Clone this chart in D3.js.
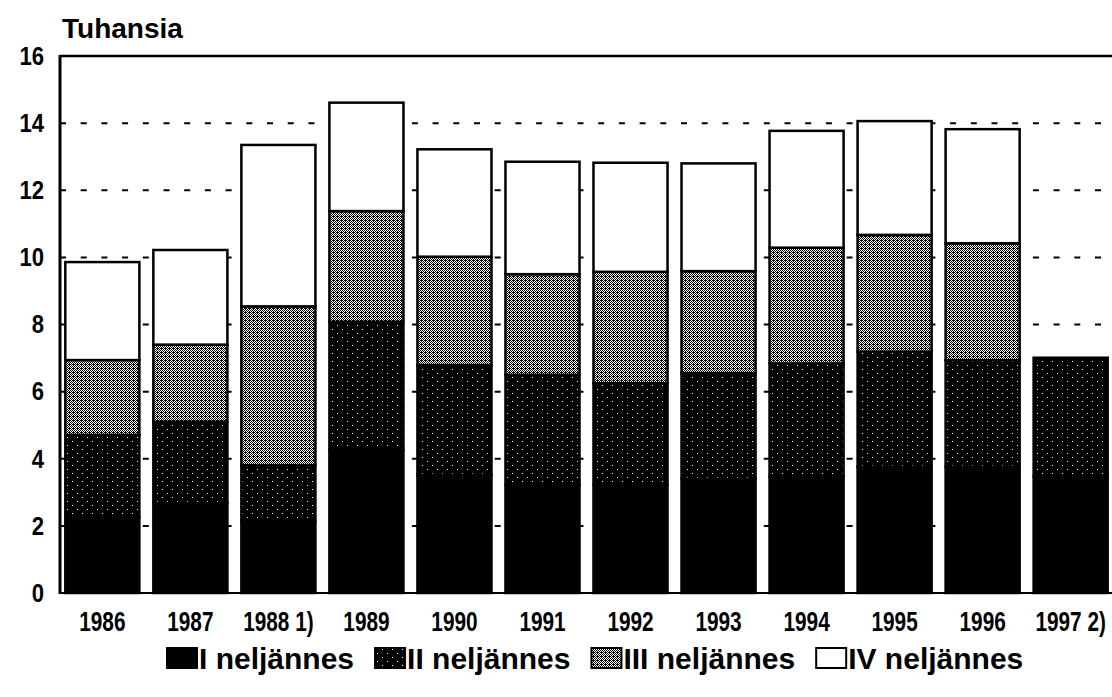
<!DOCTYPE html>
<html>
<head>
<meta charset="utf-8">
<script src="https://cdn.jsdelivr.net/npm/d3@7"></script>
<style>
  body { margin: 0; background: #fff; }
  svg { display: block; }
</style>
</head>
<body>
<div id="chart"></div>
<script>
// arvot tuhansina, luettu kuvasta
const years = ["1986", "1987", "1988 1)", "1989", "1990", "1991", "1992", "1993", "1994", "1995", "1996", "1997 2)"];
const q1 = [2.27, 2.68, 2.12, 4.26, 3.52, 3.22, 3.22, 3.40, 3.47, 3.76, 3.76, 3.47];
const q2 = [2.44, 2.42, 1.69, 3.82, 3.27, 3.28, 3.03, 3.15, 3.37, 3.43, 3.18, 3.54];
const q3 = [2.23, 2.30, 4.73, 3.30, 3.23, 3.00, 3.32, 3.04, 3.45, 3.48, 3.48, null];
const q4 = [2.92, 2.82, 4.81, 3.23, 3.20, 3.35, 3.25, 3.21, 3.48, 3.39, 3.40, null];
const keys = ["q1", "q2", "q3", "q4"];
const legendLabels = ["I neljännes", "II neljännes", "III neljännes", "IV neljännes"];
const yTicks = [0, 2, 4, 6, 8, 10, 12, 14, 16];

const W = 1112, H = 697;
const margin = {top: 56, right: -1, bottom: 104, left: 60};
const font = "'Liberation Sans', Arial, sans-serif";
const squeeze = 0.77; // kapea kirjasin

const svg = d3.select("#chart")
  .append("svg")
  .attr("width", W)
  .attr("height", H);

// kuviot
const defs = svg.append("defs");

const p2 = defs.append("pattern")
  .attr("id", "pat2")
  .attr("patternUnits", "userSpaceOnUse")
  .attr("width", 10).attr("height", 8);
p2.append("rect").attr("width", 10).attr("height", 8).attr("fill", "#000");
p2.append("rect").attr("x", 2).attr("y", 1).attr("width", 1).attr("height", 1).attr("fill", "#fff");
p2.append("rect").attr("x", 7).attr("y", 5).attr("width", 1).attr("height", 1).attr("fill", "#fff");

const p3 = defs.append("pattern")
  .attr("id", "pat3")
  .attr("patternUnits", "userSpaceOnUse")
  .attr("width", 4).attr("height", 4);
p3.append("rect").attr("width", 4).attr("height", 4).attr("fill", "#fff");
[[0,0],[2,0],[1,1],[3,1],[0,2],[2,2],[1,3],[3,3],[1,0]].forEach(function(c) {
  p3.append("rect").attr("x", c[0]).attr("y", c[1]).attr("width", 1).attr("height", 1).attr("fill", "#000");
});

const fills = {q1: "#000", q2: "url(#pat2)", q3: "url(#pat3)", q4: "#fff"};

const data = years.map(function(y, i) {
  return {year: y, q1: q1[i] || 0, q2: q2[i] || 0, q3: q3[i] || 0, q4: q4[i] || 0};
});

const x = d3.scaleBand()
  .domain(years)
  .range([margin.left, 1113])
  .paddingInner(0.136)
  .paddingOuter(0.049);

const y = d3.scaleLinear()
  .domain([0, 16])
  .range([H - margin.bottom, margin.top]);

// katkoviivat
svg.append("g")
  .selectAll("line")
  .data(yTicks.filter(function(d) { return d > 0 && d < 16; }))
  .join("line")
  .attr("x1", margin.left)
  .attr("x2", W)
  .attr("y1", function(d) { return y(d); })
  .attr("y2", function(d) { return y(d); })
  .attr("stroke", "#000")
  .attr("stroke-width", 2)
  .attr("stroke-dasharray", "6 14.7");

// yläviiva ja pohja
svg.append("line")
  .attr("x1", margin.left).attr("x2", W)
  .attr("y1", y(16)).attr("y2", y(16))
  .attr("stroke", "#000").attr("stroke-width", 2.5);
svg.append("line")
  .attr("x1", margin.left).attr("x2", W)
  .attr("y1", y(0)).attr("y2", y(0))
  .attr("stroke", "#000").attr("stroke-width", 2);

const stacked = d3.stack().keys(keys)(data);

svg.append("g")
  .selectAll("g")
  .data(stacked)
  .join("g")
  .attr("fill", function(d) { return fills[d.key]; })
  .selectAll("rect")
  .data(function(d) { return d.filter(function(s) { return s[1] - s[0] > 0; }); })
  .join("rect")
  .attr("x", function(d) { return x(d.data.year) + 1; })
  .attr("width", x.bandwidth() - 2)
  .attr("y", function(d) { return y(d[1]); })
  .attr("height", function(d) { return y(d[0]) - y(d[1]); })
  .attr("stroke", "#000")
  .attr("stroke-width", 2.5);

// y-akseli
svg.append("line")
  .attr("x1", margin.left).attr("x2", margin.left)
  .attr("y1", y(16) - 1).attr("y2", y(0) + 1)
  .attr("stroke", "#000").attr("stroke-width", 3);

const yAxis = svg.append("g")
  .attr("transform", `translate(${margin.left}, 0)`)
  .call(d3.axisLeft(y).tickValues(yTicks).tickSize(0));
yAxis.select(".domain").remove();
yAxis.selectAll("text")
  .attr("font-family", font)
  .attr("font-weight", "bold")
  .attr("font-size", "26px")
  .attr("fill", "#000")
  .attr("x", -16 / 0.85)
  .attr("transform", "scale(0.85,1)");

const xAxis = svg.append("g")
  .attr("transform", `translate(0, ${y(0)})`)
  .call(d3.axisBottom(x).tickSize(0).tickPadding(19));
xAxis.select(".domain").remove();
xAxis.selectAll("text")
  .attr("font-family", font)
  .attr("font-weight", "bold")
  .attr("font-size", "27px")
  .attr("fill", "#000")
  .attr("transform", `scale(${squeeze},1)`);

svg.append("text")
  .attr("x", 62)
  .attr("y", 38)
  .attr("font-family", font)
  .attr("font-weight", "bold")
  .attr("font-size", "28px")
  .text("Tuhansia");

// selite
const legend = svg.append("g");
let lx = 167;
keys.forEach(function(k, i) {
  legend.append("rect")
    .attr("x", lx)
    .attr("y", 648)
    .attr("width", 30)
    .attr("height", 20)
    .attr("fill", fills[k])
    .attr("stroke", "#000")
    .attr("stroke-width", 2);
  const t = legend.append("text")
    .attr("x", lx + 32)
    .attr("y", 669)
    .attr("font-family", font)
    .attr("font-weight", "bold")
    .attr("font-size", "30px")
    .text(legendLabels[i]);
  lx += 32 + t.node().getComputedTextLength() + 21;
});
</script>
</body>
</html>
